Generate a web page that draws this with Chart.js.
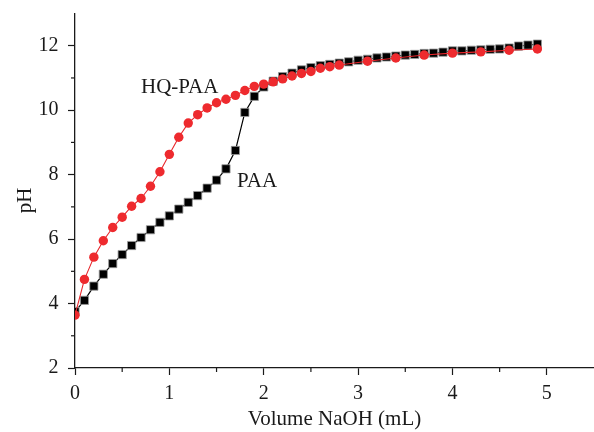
<!DOCTYPE html>
<html>
<head>
<meta charset="utf-8">
<script src="https://cdn.jsdelivr.net/npm/chart.js@4/dist/chart.umd.min.js"></script>
<style>
  html, body { margin: 0; padding: 0; background: #ffffff; }
  #wrap { width: 594px; height: 432px; }
</style>
</head>
<body>
<div id="wrap"><canvas id="c" width="594" height="432"></canvas></div>
<script>
// ---- data ----
const paaVolume = [0,0.1,0.2,0.3,0.4,0.5,0.6,0.7,0.8,0.9,1.0,1.1,1.2,1.3,1.4,1.5,1.6,1.7,1.8,1.9,
                   2.0,2.1,2.2,2.3,2.4,2.5,2.6,2.7,2.8,2.9,3.0,3.1,3.2,3.3,3.4,3.5,3.6,3.7,3.8,3.9,
                   4.0,4.1,4.2,4.3,4.4,4.5,4.6,4.7,4.8,4.9];
const paaPH = [3.75,4.10,4.54,4.91,5.24,5.52,5.80,6.05,6.29,6.52,6.72,6.93,7.14,7.35,7.58,7.83,8.18,8.75,9.93,10.43,
               10.72,10.90,11.04,11.15,11.25,11.32,11.38,11.42,11.46,11.50,11.55,11.58,11.62,11.65,11.68,11.71,11.73,11.76,11.77,11.80,
               11.84,11.84,11.86,11.87,11.89,11.90,11.93,11.99,12.02,12.05];
const hqVolume = [0,0.1,0.2,0.3,0.4,0.5,0.6,0.7,0.8,0.9,1.0,1.1,1.2,1.3,1.4,1.5,1.6,1.7,1.8,1.9,
                  2.0,2.1,2.2,2.3,2.4,2.5,2.6,2.7,2.8,3.1,3.4,3.7,4.0,4.3,4.6,4.9];
const hqPH = [3.64,4.75,5.44,5.95,6.36,6.68,7.02,7.26,7.64,8.09,8.63,9.16,9.60,9.86,10.07,10.23,10.34,10.46,10.61,10.74,
              10.81,10.88,10.97,11.06,11.14,11.20,11.30,11.35,11.40,11.52,11.62,11.71,11.77,11.81,11.86,11.90];
const seriesNames = ['HQ-PAA', 'PAA'];
const xTitle = 'Volume NaOH (mL)';
const yTitle = 'pH';
const xMinorTicks = [0.5,1.5,2.5,3.5,4.5];
const yMinorTicks = [3,5,7,9,11];
// annotation / title anchors in data units
const labelAnchors = [
  { text: 'HQ-PAA', x: 1.11, y: 10.70 },
  { text: 'PAA', x: 1.93, y: 7.80 }
];
const yTitleAt = 7.2;

const FONT = '"Liberation Serif", "DejaVu Serif", serif';
const INK = '#1a1a1a';

function pts(xs, ys) { return xs.map((x, i) => ({ x: x, y: ys[i] })); }

const extras = {
  id: 'extras',
  afterDraw(chart) {
    const ctx = chart.ctx;
    const xs = chart.scales.x, ys = chart.scales.y;
    ctx.save();
    ctx.strokeStyle = INK;
    ctx.lineWidth = 1.2;
    // minor ticks
    xMinorTicks.forEach(v => {
      const px = xs.getPixelForValue(v);
      ctx.beginPath(); ctx.moveTo(px, ys.bottom); ctx.lineTo(px, ys.bottom + 4); ctx.stroke();
    });
    yMinorTicks.forEach(v => {
      const py = ys.getPixelForValue(v);
      ctx.beginPath(); ctx.moveTo(xs.left, py); ctx.lineTo(xs.left - 4, py); ctx.stroke();
    });
    // series annotations
    ctx.fillStyle = INK;
    ctx.font = '21px ' + FONT;
    ctx.textAlign = 'center';
    ctx.textBaseline = 'middle';
    labelAnchors.forEach(a => {
      ctx.fillText(a.text, xs.getPixelForValue(a.x), ys.getPixelForValue(a.y));
    });
    // y axis title
    ctx.translate(ys.left + 25, ys.getPixelForValue(yTitleAt));
    ctx.rotate(-Math.PI / 2);
    ctx.fillText(yTitle, 0, 0);
    ctx.restore();
  }
};

new Chart(document.getElementById('c'), {
  type: 'scatter',
  data: {
    datasets: [
      {
        label: seriesNames[0],
        data: pts(hqVolume, hqPH),
        showLine: true,
        borderColor: '#e8262b',
        borderWidth: 1.1,
        pointStyle: 'circle',
        pointRadius: 4.7,
        pointHoverRadius: 4.7,
        pointBackgroundColor: '#ee2a2e',
        pointBorderWidth: 0,
        order: 0
      },
      {
        label: seriesNames[1],
        data: pts(paaVolume, paaPH),
        showLine: true,
        borderColor: '#000000',
        borderWidth: 1.2,
        pointStyle: 'rect',
        pointRadius: 5.8,
        pointHoverRadius: 5.8,
        pointBackgroundColor: '#000000',
        pointBorderColor: '#9a9a9a',
        pointBorderWidth: 0.8,
        order: 1
      }
    ]
  },
  options: {
    responsive: false,
    animation: false,
    events: [],
    layout: { autoPadding: false, padding: { top: 13.5, right: -1.5, bottom: 0, left: 0 } },
    plugins: { legend: { display: false }, tooltip: { enabled: false } },
    scales: {
      x: {
        type: 'linear',
        min: 0, max: 5.5,
        afterFit(s) { s.height = 64; s.paddingLeft = 0; s.paddingRight = 0; },
        border: { display: true, color: INK, width: 1.3 },
        grid: { drawOnChartArea: false, color: INK, tickLength: 7, tickWidth: 1.2 },
        ticks: { stepSize: 1, includeBounds: false, color: INK, padding: 7,
                 font: { family: FONT, size: 20 }, maxRotation: 0 },
        title: { display: true, text: xTitle, color: INK,
                 font: { family: FONT, size: 21 }, padding: { top: 0, bottom: 0 } }
      },
      y: {
        type: 'linear',
        min: 2, max: 13,
        afterFit(s) { s.width = 75; s.paddingTop = 0; s.paddingBottom = 0; },
        border: { display: true, color: INK, width: 1.3 },
        grid: { drawOnChartArea: false, color: INK, tickLength: 7, tickWidth: 1.2 },
        ticks: { stepSize: 2, includeBounds: false, color: INK, padding: 9.5,
                 font: { family: FONT, size: 20 } },
        title: { display: false, text: yTitle }
      }
    }
  },
  plugins: [extras]
});
</script>
</body>
</html>
